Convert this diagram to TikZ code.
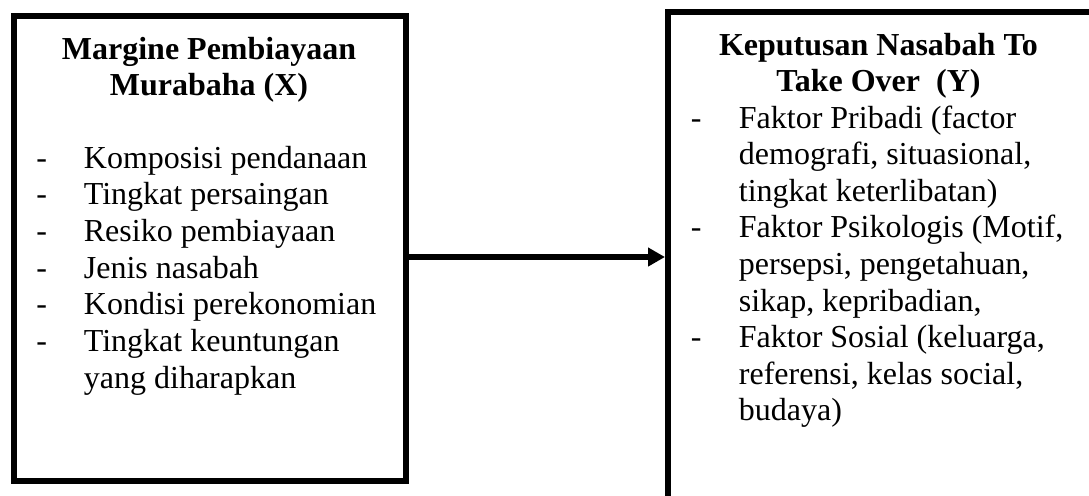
\documentclass[tikz,border=0pt]{standalone}
\usepackage{fontspec}
\setmainfont{Liberation Serif}
\usetikzlibrary{arrows.meta}
\tikzset{
  box/.style={draw, line width=3pt, inner sep=0pt},
  txt/.style={inner sep=0pt, anchor=base west, font=\fontsize{16}{18}\selectfont},
  ttl/.style={inner sep=0pt, anchor=base, font=\fontsize{16}{18}\selectfont\bfseries},
  arr/.style={line width=2.75pt, -{Triangle[length=8.5pt,width=9pt]}}
}
\begin{document}
\begin{tikzpicture}[x=0.5pt,y=-0.5pt]
\useasboundingbox (0,0) rectangle (1089,495);
\clip (0,0) rectangle (1089,495);
% boxes
\node[box, minimum width=196pt, minimum height=232.5pt] (L) at (210,248.5) {};
\node[box, minimum width=213.5pt, minimum height=246.5pt] (R) at (881.5,258.5) {};
% left title
\node[ttl] (lt1) at (209,59) {Margine Pembiayaan};
\node[ttl] (lt2) at (209,95.7) {Murabaha (X)};
% left list
\node[txt] (ld1) at (36,168) {-};
\node[txt] (la1) at (83.5,168) {Komposisi pendanaan};
\node[txt] (ld2) at (36,204.7) {-};
\node[txt] (la2) at (83.5,204.7) {Tingkat persaingan};
\node[txt] (ld3) at (36,241.3) {-};
\node[txt] (la3) at (83.5,241.3) {Resiko pembiayaan};
\node[txt] (ld4) at (36,278) {-};
\node[txt] (la4) at (83.5,278) {Jenis nasabah};
\node[txt] (ld5) at (36,314.7) {-};
\node[txt] (la5) at (83.5,314.7) {Kondisi perekonomian};
\node[txt] (ld6) at (36,351.3) {-};
\node[txt] (la6) at (83.5,351.3) {Tingkat keuntungan};
\node[txt] (la7) at (83.5,388) {yang diharapkan};
% right title
\node[ttl] (rt1) at (878.5,55) {Keputusan Nasabah To};
\node[ttl] (rt2) at (878.5,91.5) {Take Over\ \ (Y)};
% right list
\node[txt] (rd1) at (690.5,128) {-};
\node[txt] (rb1) at (738.5,128) {Faktor Pribadi (factor};
\node[txt] (rb2) at (738.5,164.6) {demografi, situasional,};
\node[txt] (rb3) at (738.5,201.2) {tingkat keterlibatan)};
\node[txt] (rd2) at (690.5,237.8) {-};
\node[txt] (rb4) at (738.5,237.8) {Faktor Psikologis (Motif,};
\node[txt] (rb5) at (738.5,274.4) {persepsi, pengetahuan,};
\node[txt] (rb6) at (738.5,311) {sikap, kepribadian,};
\node[txt] (rd3) at (690.5,347.6) {-};
\node[txt] (rb7) at (738.5,347.6) {Faktor Sosial (keluarga,};
\node[txt] (rb8) at (738.5,384.2) {referensi, kelas social,};
\node[txt] (rb9) at (738.5,420.8) {budaya)};
% arrow
\draw[arr] ([yshift=-4.25pt]L.east) -- ([yshift=-4.25pt]L.east -| R.west);
\end{tikzpicture}
\end{document}
